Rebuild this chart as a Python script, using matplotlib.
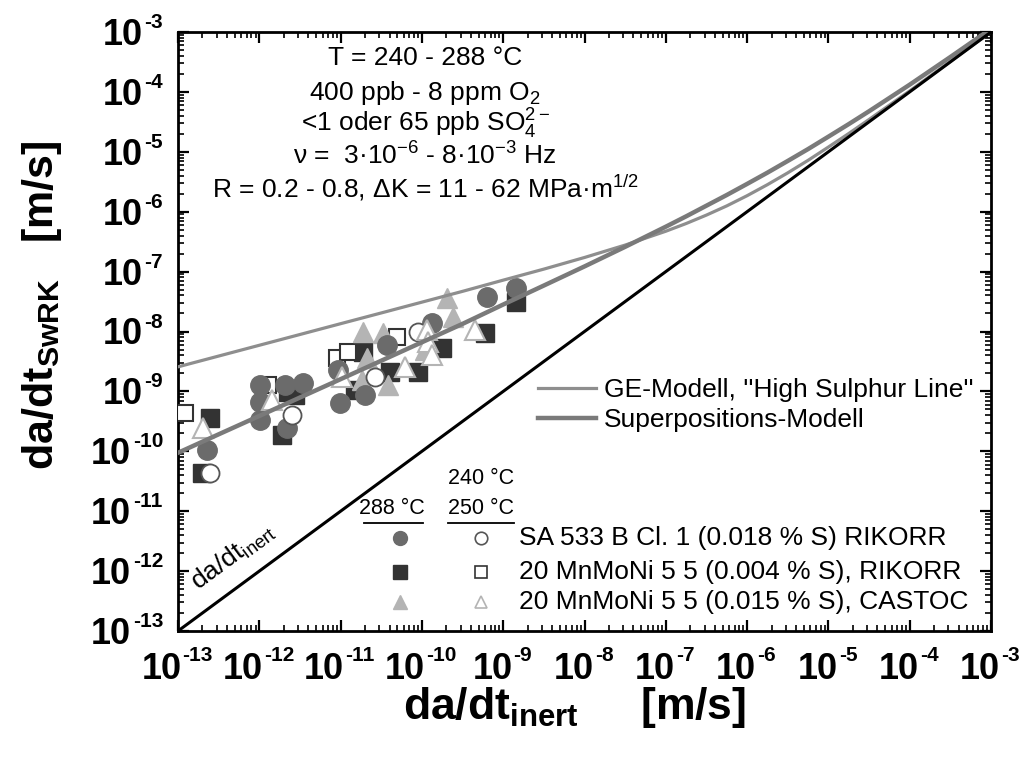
import numpy as np
import matplotlib
matplotlib.use('Agg')
import matplotlib.pyplot as plt
from matplotlib.ticker import FixedLocator, LogLocator, NullFormatter

plt.rcParams['font.family'] = ['Liberation Sans', 'DejaVu Sans']
plt.rcParams['mathtext.fontset'] = 'custom'
plt.rcParams['mathtext.rm'] = 'Liberation Sans'
plt.rcParams['mathtext.it'] = 'Liberation Sans'
plt.rcParams['mathtext.bf'] = 'Liberation Sans:bold'

# Messpunkte (da/dt_inert, da/dt_SwRK) in m/s
# SA 533 B Cl. 1, 288 °C (gefuellte Kreise)
sa_288_x = [2.28e-13, 1.02e-12, 1.02e-12, 1.02e-12, 2.07e-12, 3.45e-12, 2.19e-12,
            9.3e-12, 9.8e-12, 2.0e-11, 3.72e-11, 1.33e-10, 6.3e-10, 1.44e-9]
sa_288_y = [1.05e-10, 1.28e-9, 6.65e-10, 3.33e-10, 1.28e-9, 1.38e-9, 2.45e-10,
            2.28e-9, 6.4e-10, 8.7e-10, 5.96e-9, 1.39e-8, 3.77e-8, 5.3e-8]
# SA 533 B Cl. 1, 240/250 °C (offene Kreise)
sa_250_x = [2.48e-13, 2.52e-12, 2.65e-11, 8.95e-11]
sa_250_y = [4.34e-11, 4.04e-10, 1.74e-9, 9.8e-9]
# 20 MnMoNi 5 5 (0.004 % S), 288 °C (gefuellte Quadrate)
mn4_288_x = [2.48e-13, 1.97e-13, 2.25e-12, 2.75e-12, 1.9e-12, 1.89e-11, 1.5e-11,
             4.06e-11, 8.95e-11, 1.77e-10, 5.97e-10, 1.44e-9]
mn4_288_y = [3.6e-10, 4.34e-11, 9.8e-10, 8.7e-10, 1.87e-10, 4.55e-9, 1.05e-9,
             2.1e-9, 2.1e-9, 5.3e-9, 9.4e-9, 3.1e-8]
# 20 MnMoNi 5 5 (0.004 % S), 250 °C (offene Quadrate)
mn4_250_x = [1.22e-13, 1.28e-12, 9.0e-12, 1.23e-11, 4.94e-11]
mn4_250_y = [4.36e-10, 1.28e-9, 3.6e-9, 4.55e-9, 8.1e-9]
# 20 MnMoNi 5 5 (0.015 % S), 288 °C (gefuellte Dreiecke)
mn15_288_x = [1.89e-11, 3.33e-11, 2.1e-11, 1.83e-11, 3.83e-11, 2.04e-10, 2.41e-10, 1.09e-10]
mn15_288_y = [9.8e-9, 9.4e-9, 3.6e-9, 1.55e-9, 1.28e-9, 3.6e-8, 1.75e-8, 4.9e-9]
# 20 MnMoNi 5 5 (0.015 % S), 240 °C (offene Dreiecke)
mn15_240_x = [2.03e-13, 1.43e-12, 1.04e-11, 6.2e-11, 1.16e-10, 1.19e-10, 1.33e-10, 4.5e-10]
mn15_240_y = [2.45e-10, 7.2e-10, 1.74e-9, 2.55e-9, 1.06e-8, 6.7e-9, 4.1e-9, 1.06e-8]

# Modellkurven
model_x = [1e-13, 3.16e-13, 1e-12, 3.16e-12, 1e-11, 3.16e-11, 1e-10, 3.16e-10, 1e-9, 3.16e-9,
           1e-8, 3.16e-8, 1e-7, 1.78e-7, 3.16e-7, 5.62e-7, 1e-6, 1.78e-6, 3.16e-6, 5.62e-6,
           1e-5, 1.78e-5, 3.16e-5, 1e-4, 3.16e-4, 1e-3]
ge_y = [2.57e-9, 3.89e-9, 5.89e-9, 8.91e-9, 1.35e-8, 2.04e-8, 3.09e-8, 4.68e-8, 7.2e-8, 1.10e-7,
        1.72e-7, 2.77e-7, 4.72e-7, 6.35e-7, 8.78e-7, 1.25e-6, 1.85e-6, 2.83e-6, 4.45e-6, 7.2e-6,
        1.20e-5, 2.02e-5, 3.46e-5, 1.04e-4, 3.23e-4, 1.01e-3]
sup_y = [9.44e-11, 1.92e-10, 3.89e-10, 7.90e-10, 1.60e-9, 3.25e-9, 6.61e-9, 1.34e-8, 2.82e-8, 5.85e-8,
         1.22e-7, 2.59e-7, 5.62e-7, 8.37e-7, 1.26e-6, 1.90e-6, 2.91e-6, 4.49e-6, 7.03e-6, 1.11e-5,
         1.79e-5, 2.90e-5, 4.75e-5, 1.32e-4, 3.82e-4, 1.13e-3]
inert_x = [1e-13, 1e-3]

exponents = list(range(-13, -2))
decades = [10.0 ** e for e in exponents]

c_circ = '#6b6b6b'
c_sq = '#333333'
c_tri = '#b4b4b4'
PT = 0.72  # Pixel -> Punkt bei 100 dpi

fig = plt.figure(figsize=(10.23, 7.6), dpi=100)
ax = fig.add_axes([178 / 1023, 1 - 631 / 760, 813 / 1023, 599 / 760])
ax.set_xscale('log')
ax.set_yscale('log')
ax.set_xlim(1e-13, 1e-3)
ax.set_ylim(1e-13, 1e-3)

ax.plot(mn4_288_x, mn4_288_y, 's', ms=13, mfc=c_sq, mec=c_sq, ls='none', zorder=3)
ax.plot(mn4_250_x, mn4_250_y, 's', ms=12, mfc='white', mec=c_sq, mew=1.5, ls='none', zorder=4)
ax.plot(mn15_288_x, mn15_288_y, '^', ms=15, mfc=c_tri, mec=c_tri, ls='none', zorder=5)
ax.plot(sa_288_x, sa_288_y, 'o', ms=14, mfc=c_circ, mec=c_circ, ls='none', zorder=6)
ax.plot(sa_250_x, sa_250_y, 'o', ms=13, mfc='white', mec='#555555', mew=1.3, ls='none', zorder=7)
ax.plot(mn15_240_x, mn15_240_y, '^', ms=14, mfc='white', mec=c_tri, mew=1.5, ls='none', zorder=8)

ge_line, = ax.plot(model_x, ge_y, color='#8e8e8e', lw=2.3, zorder=10)
sup_line, = ax.plot(model_x, sup_y, color='#7a7a7a', lw=3.2, zorder=10)
ax.plot(inert_x, inert_x, color='black', lw=2.2, zorder=10)

ax.text(0.068, 0.124, r'da/dt$_{inert}$', transform=ax.transAxes, fontsize=19,
        rotation=36.4, ha='center', va='center', zorder=11)

# Achsen, Ticks
ax.xaxis.set_major_locator(FixedLocator(decades))
ax.yaxis.set_major_locator(FixedLocator(decades))
ax.xaxis.set_minor_locator(LogLocator(base=10, subs=np.arange(2, 10), numticks=20))
ax.yaxis.set_minor_locator(LogLocator(base=10, subs=np.arange(2, 10), numticks=20))
for a in (ax.xaxis, ax.yaxis):
    a.set_major_formatter(NullFormatter())
    a.set_minor_formatter(NullFormatter())
ax.tick_params(which='both', direction='in', top=True, right=True)
ax.tick_params(which='major', length=8, width=1.6)
ax.tick_params(which='minor', length=4, width=1.2)
for s in ax.spines.values():
    s.set_linewidth(2)

# Tick-Beschriftungen 10^-n mit Bindestrich
w10 = 37
for e, v in zip(exponents, decades):
    ex = '-%d' % -e
    wexp = (0.333 + 0.556 * (len(ex) - 1)) * 20.8
    split = (w10 - wexp) / 2
    ax.annotate('10', xy=(v, 0), xycoords=('data', 'axes fraction'),
                xytext=(split * PT, -48 * PT), textcoords='offset points',
                ha='right', va='baseline', fontsize=26, fontweight='bold', annotation_clip=False)
    ax.annotate(ex, xy=(v, 0), xycoords=('data', 'axes fraction'),
                xytext=((split + 1) * PT, -30 * PT), textcoords='offset points',
                ha='left', va='baseline', fontsize=15, fontweight='bold', annotation_clip=False)
    ax.annotate(ex, xy=(0, v), xycoords=('axes fraction', 'data'),
                xytext=(-15 * PT, 4 * PT), textcoords='offset points',
                ha='right', va='baseline', fontsize=15, fontweight='bold', annotation_clip=False)
    ax.annotate('10', xy=(0, v), xycoords=('axes fraction', 'data'),
                xytext=(-(17 + wexp) * PT, -13 * PT), textcoords='offset points',
                ha='right', va='baseline', fontsize=26, fontweight='bold', annotation_clip=False)

fig.text(575 / 1023, 1 - 719 / 760, r'$\mathbf{da/dt_{inert}}$     $\mathbf{[m/s]}$',
         fontsize=32, ha='center', va='baseline')
fig.text(42 / 1023, 1 - 305 / 760, r'$\mathbf{da/dt_{SwRK}}$   $\mathbf{[m/s]}$',
         fontsize=31, ha='center', va='center', rotation=90)

# Versuchsbedingungen
cond = ['T = 240 - 288 °C',
        '400 ppb - 8 ppm O$_2$',
        '<1 oder 65 ppb SO$_4^{2-}$',
        'ν =  3·10$^{-6}$ - 8·10$^{-3}$ Hz',
        'R = 0.2 - 0.8, ΔK = 11 - 62 MPa·m$^{1/2}$']
cond_y = [0.9449, 0.8865, 0.8331, 0.7780, 0.7245]
for t, yy in zip(cond, cond_y):
    ax.text(0.304, yy, t, transform=ax.transAxes, fontsize=19, ha='center', va='baseline')

# Legende Modelle
ax.legend([ge_line, sup_line], ["GE-Modell, ''High Sulphur Line''", 'Superpositions-Modell'],
          loc='center left', bbox_to_anchor=(0.43, 0.377), frameon=False, fontsize=19,
          handlelength=2.2, handletextpad=0.3, labelspacing=0.25, borderaxespad=0)

# Legende Messpunkte
ax.text(0.373, 0.255, '240 °C', transform=ax.transAxes, fontsize=15.5, ha='center', va='center')
ax.text(0.263, 0.205, '288 °C', transform=ax.transAxes, fontsize=15.5, ha='center', va='center')
ax.text(0.373, 0.205, '250 °C', transform=ax.transAxes, fontsize=15.5, ha='center', va='center')
ax.plot([0.229, 0.301], [0.180, 0.180], color='black', lw=1.3, transform=ax.transAxes)
ax.plot([0.332, 0.413], [0.180, 0.180], color='black', lw=1.3, transform=ax.transAxes)
leg_rows = [0.155, 0.0985, 0.0484]
leg_filled = [('o', c_circ), ('s', c_sq), ('^', c_tri)]
leg_open = [('o', '#555555'), ('s', c_sq), ('^', c_tri)]
leg_text = ['SA 533 B Cl. 1 (0.018 % S) RIKORR',
            '20 MnMoNi 5 5 (0.004 % S), RIKORR',
            '20 MnMoNi 5 5 (0.015 % S), CASTOC']
for yy, (m, fc), (m2, ec2), t in zip(leg_rows, leg_filled, leg_open, leg_text):
    ax.plot(0.273, yy, m, ms=10, mfc=fc, mec=fc, transform=ax.transAxes)
    ax.plot(0.373, yy, m2, ms=9, mfc='white', mec=ec2, mew=1.2, transform=ax.transAxes)
    ax.text(0.419, yy, t, transform=ax.transAxes, fontsize=19, ha='left', va='center')

fig.savefig('out.png', dpi=100)
